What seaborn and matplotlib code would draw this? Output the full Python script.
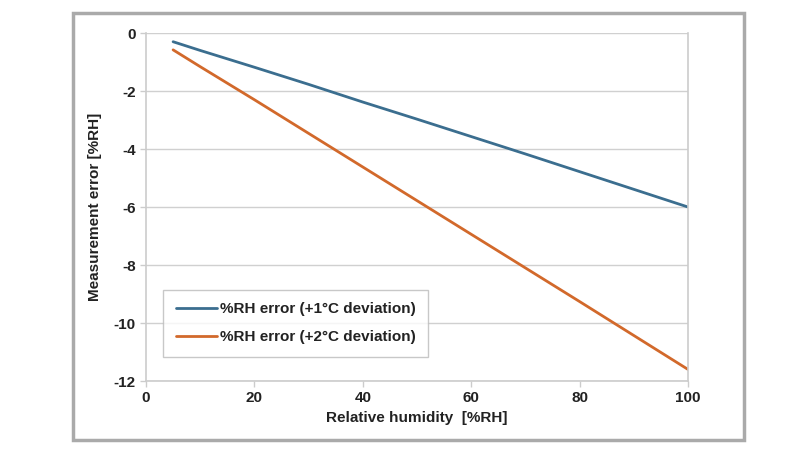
import pandas as pd
import matplotlib.pyplot as plt
import seaborn as sns
from matplotlib.patches import Rectangle

rh = [5, 10, 20, 30, 40, 50, 60, 70, 80, 90, 100]
err_1c = [-0.30, -0.60, -1.18, -1.77, -2.38, -2.97, -3.57, -4.17, -4.78, -5.39, -6.00]
err_2c = [-0.58, -1.16, -2.30, -3.46, -4.62, -5.78, -6.94, -8.10, -9.26, -10.43, -11.60]
series_names = ['%RH error (+1°C deviation)', '%RH error (+2°C deviation)']

df = pd.concat([
    pd.DataFrame({'rh': rh, 'err': err_1c, 'series': series_names[0]}),
    pd.DataFrame({'rh': rh, 'err': err_2c, 'series': series_names[1]}),
])

sns.set_style("white")
plt.rcParams['font.family'] = ['Liberation Sans', 'DejaVu Sans']
plt.rcParams['font.weight'] = 'bold'
plt.rcParams['axes.unicode_minus'] = False

fig = plt.figure(figsize=(8, 4.5), dpi=100)
ax = fig.add_axes([0.1825, 0.1533, 0.6775, 0.7733])

sns.lineplot(data=df, x='rh', y='err', hue='series', ax=ax,
             palette=['#3b6e8f', '#d2692b'], linewidth=2)

ax.set_xlim(0, 100)
ax.set_ylim(-12, 0)
ax.set_xticks(range(0, 101, 20))
ax.set_yticks(range(-12, 1, 2))
ax.yaxis.grid(True, color='#d0d0d0', linewidth=1)
ax.set_axisbelow(True)
for side in ['left', 'bottom', 'right']:
    ax.spines[side].set_color('#cccccc')
    ax.spines[side].set_linewidth(1.2)
ax.spines['top'].set_visible(False)
ax.tick_params(axis='both', colors='#cccccc', labelcolor='#222222',
               labelsize=11, length=4, width=1, direction='out', left=True, bottom=True)
for lbl in ax.get_xticklabels() + ax.get_yticklabels():
    lbl.set_fontweight('bold')

ax.set_xlabel('Relative humidity  [%RH]', fontsize=11, fontweight='bold', color='#222222')
ax.set_ylabel('Measurement error [%RH]', fontsize=11, fontweight='bold', color='#222222', labelpad=8)

leg = ax.legend(loc='lower left', bbox_to_anchor=(0.018, 0.048), fontsize=11,
                frameon=True, fancybox=False, edgecolor='#bbbbbb', handlelength=2.7,
                handletextpad=0.2, borderpad=0.8, labelspacing=0.95)
leg.get_frame().set_linewidth(1)
for t in leg.get_texts():
    t.set_fontweight('bold')
    t.set_color('#222222')

fig.patches.append(Rectangle((0.091, 0.022), 0.839, 0.949, transform=fig.transFigure,
                             fill=False, edgecolor='#aaaaaa', linewidth=2.5, zorder=0))

plt.savefig('out.png', dpi=100)
